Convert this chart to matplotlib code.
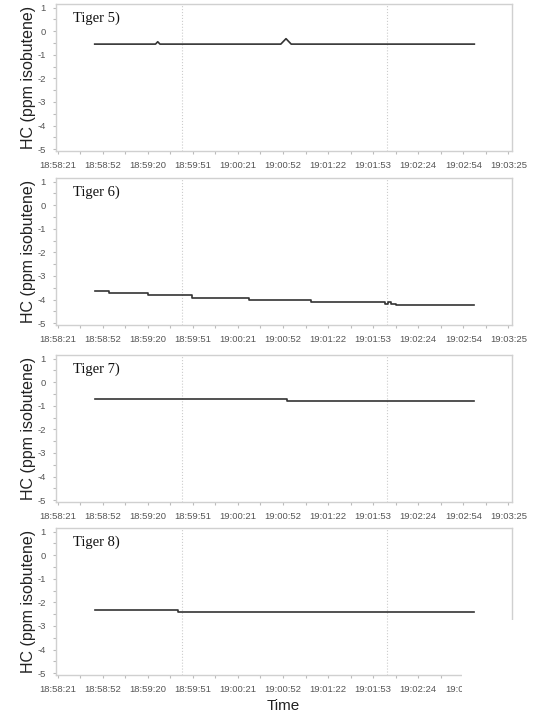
import numpy as np
import matplotlib
matplotlib.use('Agg')
import matplotlib.pyplot as plt
from matplotlib.patches import Rectangle

plt.rcParams['font.family'] = ['Liberation Sans', 'DejaVu Sans']
plt.rcParams['axes.unicode_minus'] = False

# x in seconds after 18:58:21
tick_labels = ['18:58:21', '18:58:52', '18:59:20', '18:59:51', '19:00:21', '19:00:52',
               '19:01:22', '19:01:53', '19:02:24', '19:02:54', '19:03:25']
tick_pos = np.linspace(0, 304, 11)
grid_x = [84, 222]

names = ['Tiger 5)', 'Tiger 6)', 'Tiger 7)', 'Tiger 8)']

t5 = [25, 66, 67.5, 69, 150.5, 154, 157.5, 281]
hc5 = [-0.55, -0.55, -0.45, -0.55, -0.55, -0.32, -0.55, -0.55]

t6 = [25, 34.6, 60.7, 90.3, 129, 170.7, 221, 223, 225, 228.5, 281]
hc6 = [-3.62, -3.72, -3.82, -3.92, -4.02, -4.12, -4.2, -4.12, -4.2, -4.25, -4.25]

t7 = [25, 154.8, 281]
hc7 = [-0.71, -0.78, -0.78]

t8 = [25, 81, 281]
hc8 = [-2.33, -2.42, -2.42]

series = [(t5, hc5, 'default'), (t6, hc6, 'steps-post'),
          (t7, hc7, 'steps-post'), (t8, hc8, 'steps-post')]

fig = plt.figure(figsize=(5.37, 7.18), dpi=100)
W, H = 537, 718
tops = [4, 178, 355, 528]
panel_h = 147
left, right = 56, 512

for i, (t, hc, ds) in enumerate(series):
    top = tops[i]
    ax = fig.add_axes([left / W, (H - top - panel_h) / H, (right - left) / W, panel_h / H])
    ax.plot(t, hc, color='#333333', lw=1.2, drawstyle=ds)
    for gx in grid_x:
        ax.axvline(gx, color='#cccccc', lw=0.8, ls=':', zorder=0)
    ax.set_xlim(-1.1, 306.4)
    ax.set_ylim(-5.08, 1.15)
    ax.set_xticks(tick_pos)
    ax.set_xticklabels(tick_labels)
    ax.set_xticks(tick_pos[:-1] + 15.2, minor=True)
    ax.set_yticks(range(-5, 2))
    ax.set_yticks(np.arange(-4.5, 1, 1), minor=True)
    ax.tick_params(axis='both', which='both', colors='#bbbbbb', labelcolor='#555555',
                   labelsize=6.8, length=2.5, width=0.8)
    ax.tick_params(axis='x', pad=5)
    ax.tick_params(axis='y', pad=5)
    for s in ax.spines.values():
        s.set_color('#d0d0d0')
        s.set_linewidth(1.0)
    ax.set_ylabel('HC (ppm isobutene)', fontsize=11.5, color='#222222', labelpad=1)
    ax.text(0.037, 0.905, names[i], transform=ax.transAxes, fontsize=10.5,
            family='Liberation Serif', color='#111111', va='center', ha='left')

fig.text(283 / W, 1 - 706 / H, 'Time', fontsize=11, ha='center', va='center', color='#222222')

# white patch covering the bottom-right corner of the last panel
fig.add_artist(Rectangle((462 / W, 0), 1 - 462 / W, (H - 620) / H,
                         transform=fig.transFigure, facecolor='white',
                         edgecolor='none', zorder=10))

fig.savefig('out.png', dpi=100)
